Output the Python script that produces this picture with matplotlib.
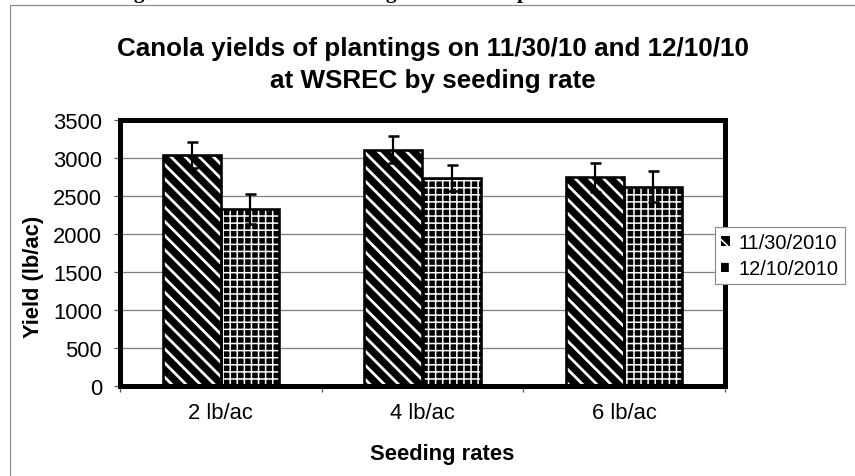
import matplotlib
matplotlib.use("Agg")
import matplotlib.pyplot as plt
import matplotlib as mpl
from matplotlib.patches import Patch, Rectangle
import numpy as np

# ---- data ----
categories = ["2 lb/ac", "4 lb/ac", "6 lb/ac"]
series_names = ["11/30/2010", "12/10/2010"]
yield_1130 = [3045, 3110, 2745]
err_1130 = [170, 180, 190]
yield_1210 = [2330, 2735, 2625]
err_1210 = [200, 170, 205]
yticks = [0, 500, 1000, 1500, 2000, 2500, 3000, 3500]
title_lines = ["Canola yields of plantings on 11/30/10 and 12/10/10",
               "at WSREC by seeding rate"]

DPI = 85
W, H = 855, 477
plt.rcParams['font.family'] = ['Liberation Sans', 'DejaVu Sans']
plt.rcParams['hatch.linewidth'] = 1.3

fig = plt.figure(figsize=(W / DPI, H / DPI), dpi=DPI)
fig.patch.set_facecolor('white')

def px2pt(p):
    return p * 72.0 / DPI

def with_hatch_lw(artist, hlw):
    """Draw the artist with a specific hatch line width."""
    if hasattr(artist, 'set_hatch_linewidth'):
        artist.set_hatch_linewidth(hlw)
    orig = artist.draw
    def draw(renderer, _orig=orig):
        with mpl.rc_context({'hatch.linewidth': hlw}):
            _orig(renderer)
    artist.draw = draw

# outer chart-area frame (gray)
fig.add_artist(Rectangle((10 / W, -0.05), 1.2, 1 - 6 / H + 0.05,
                         transform=fig.transFigure, facecolor='none',
                         edgecolor='#8c8c8c', lw=px2pt(1.2), zorder=0))

# partially visible caption descenders above the chart
for xg, ch in [(139, 'g'), (391, 'g'), (523, 'p')]:
    fig.text(xg / W, 1 + 1.5 / H, ch, ha='center', va='baseline',
             family=['Liberation Serif'], weight='bold', fontsize=px2pt(21))

left, right, top, bottom = 120, 725, 121, 387
ax = fig.add_axes([left / W, 1 - bottom / H, (right - left) / W, (bottom - top) / H])

x = np.arange(len(categories))
w = 0.288

# gridlines
ax.set_axisbelow(True)
ax.yaxis.grid(True, color='#808080', lw=px2pt(1.3))

def hatched(xpos, vals, hatch, hlw):
    with mpl.rc_context({'hatch.linewidth': hlw}):
        bars = ax.bar(xpos, vals, w, facecolor='black', edgecolor='white', lw=0,
                      hatch=hatch, zorder=2)
    for b in bars:
        with_hatch_lw(b, hlw)
    ax.bar(xpos, vals, w, facecolor='none', edgecolor='black', lw=px2pt(2.6), zorder=3)
    return bars

hatched(x - w / 2, yield_1130, '\\\\', 2.3)
hatched(x + w / 2, yield_1210, '++', 1.3)

ax.errorbar(x - w / 2, yield_1130, yerr=err_1130, fmt='none', ecolor='black',
            elinewidth=px2pt(2.2), capsize=px2pt(5.5), capthick=px2pt(2.5), zorder=4)
ax.errorbar(x + w / 2, yield_1210, yerr=err_1210, fmt='none', ecolor='black',
            elinewidth=px2pt(2.2), capsize=px2pt(5.5), capthick=px2pt(2.5), zorder=4)

ax.set_xlim(-0.5, len(categories) - 0.5)
ax.set_ylim(0, 3500)
ax.set_yticks(yticks)
ax.set_yticklabels([str(v) for v in yticks])
ax.set_xticks(np.arange(len(categories) + 1) - 0.5)
ax.set_xticklabels([])
ax.set_xticks(x, minor=True)
ax.set_xticklabels(categories, minor=True)

for s in ax.spines.values():
    s.set_linewidth(px2pt(5))
    s.set_color('black')

ax.tick_params(axis='both', which='major', direction='out', length=px2pt(6),
               width=px2pt(1.2), color='#555555', labelsize=px2pt(22))
ax.tick_params(axis='y', pad=px2pt(12))
ax.tick_params(axis='x', which='minor', length=0, pad=px2pt(16), labelsize=px2pt(22))

# titles / labels
fig.text(433 / W, 1 - 56 / H, title_lines[0], ha='center', va='baseline',
         weight='bold', fontsize=px2pt(26))
fig.text(433 / W, 1 - 88 / H, title_lines[1], ha='center', va='baseline',
         weight='bold', fontsize=px2pt(26))
fig.text(442 / W, 1 - 455 / H, "Seeding rates", ha='center', va='center',
         weight='bold', fontsize=px2pt(22))
fig.text(34 / W, 1 - 277 / H, "Yield (lb/ac)", ha='center', va='center',
         rotation=90, weight='bold', fontsize=px2pt(22))

# legend
handles = [Patch(facecolor='black', edgecolor='white', lw=0, hatch='\\'),
           Patch(facecolor='black', edgecolor='white', lw=0, hatch='+')]
leg = fig.legend(handles, series_names, loc='upper left',
                 bbox_to_anchor=(715 / W, 1 - 228 / H), borderaxespad=0,
                 fontsize=px2pt(20), frameon=True, fancybox=False,
                 edgecolor='#8c8c8c', framealpha=1, handlelength=0.45,
                 handleheight=0.45, handletextpad=0.45, labelspacing=0.35,
                 borderpad=0.3)
leg.get_frame().set_linewidth(px2pt(1.2))

fig.savefig("out.png", dpi=DPI, facecolor='white')
